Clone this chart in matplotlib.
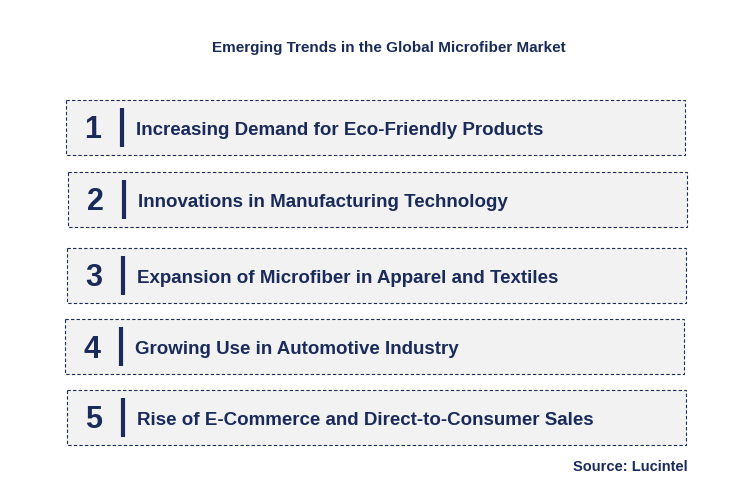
import matplotlib
matplotlib.use("Agg")
import matplotlib.pyplot as plt
from matplotlib.patches import Rectangle

title = "Emerging Trends in the Global Microfiber Market"
numbers = ["1", "2", "3", "4", "5"]
trends = [
    "Increasing Demand for Eco-Friendly Products",
    "Innovations in Manufacturing Technology",
    "Expansion of Microfiber in Apparel and Textiles",
    "Growing Use in Automotive Industry",
    "Rise of E-Commerce and Direct-to-Consumer Sales",
]
source = "Source: Lucintel"

navy = "#1a2a5a"
box_x = [66, 68, 67, 65, 67]
box_y = [100, 172, 248, 319, 390]
box_w = 619
box_h = 55

fig = plt.figure(figsize=(7.29, 4.95), dpi=100)
ax = fig.add_axes([0, 0, 1, 1])
ax.set_xlim(0, 729)
ax.set_ylim(495, 0)
ax.axis("off")

ax.text(389, 48, title, ha="center", va="center", fontsize=11,
        fontweight="bold", color=navy, family="Liberation Sans")

for i, (n, t) in enumerate(zip(numbers, trends)):
    x, y = box_x[i], box_y[i]
    ax.add_patch(Rectangle((x, y), box_w, box_h, facecolor="#f2f2f2",
                           edgecolor=navy, linestyle=(0, (3, 2)), linewidth=0.8))
    ax.text(x + 27, y + box_h / 2 + 3, n, ha="center", va="center",
            fontsize=22, fontweight="bold", color=navy, family="Liberation Sans")
    ax.plot([x + 56, x + 56], [y + 8, y + box_h - 8], color=navy, linewidth=3,
            solid_capstyle="butt")
    ax.text(x + 70, y + box_h / 2 + 3, t, ha="left", va="center",
            fontsize=13.5, fontweight="bold", color=navy, family="Liberation Sans")

ax.text(688, 467, source, ha="right", va="center", fontsize=10.5,
        fontweight="bold", color=navy, family="Liberation Sans")

fig.savefig("out.png", dpi=100, facecolor="white")
